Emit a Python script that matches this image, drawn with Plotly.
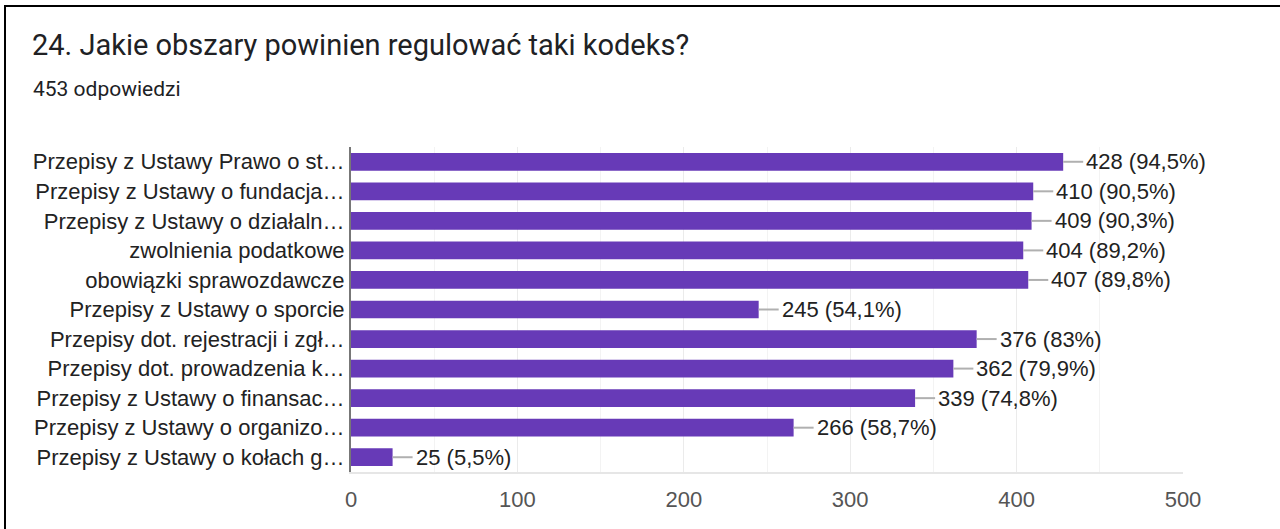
import plotly.graph_objects as go

categories = [
    "Przepisy z Ustawy Prawo o st…",
    "Przepisy z Ustawy o fundacja…",
    "Przepisy z Ustawy o działaln…",
    "zwolnienia podatkowe",
    "obowiązki sprawozdawcze",
    "Przepisy z Ustawy o sporcie",
    "Przepisy dot. rejestracji i zgł…",
    "Przepisy dot. prowadzenia k…",
    "Przepisy z Ustawy o finansac…",
    "Przepisy z Ustawy o organizo…",
    "Przepisy z Ustawy o kołach g…",
]
counts = [428, 410, 409, 404, 407, 245, 376, 362, 339, 266, 25]
percents = ["94,5%", "90,5%", "90,3%", "89,2%", "89,8%", "54,1%", "83%", "79,9%", "74,8%", "58,7%", "5,5%"]
tick_values = [0, 100, 200, 300, 400, 500]

TITLE = "24. Jakie obszary powinien regulować taki kodeks?"
SUBTITLE = "453 odpowiedzi"

W, H = 1280, 529
PURPLE = "#673ab7"
FONT = "Liberation Sans, Arial, sans-serif"

fig = go.Figure()
fig.add_trace(go.Bar(
    x=counts, y=categories, orientation="h",
    marker=dict(color=PURPLE, line=dict(width=0)),
    hoverinfo="x+y", showlegend=False,
))

# leader lines + value labels
for c, v, p in zip(categories, counts, percents):
    fig.add_shape(type="line", xref="x", yref="y", xsizemode="pixel", xanchor=v,
                  x0=0, x1=20, y0=c, y1=c,
                  line=dict(color="#b0b0b0", width=2))
    fig.add_annotation(x=v, y=c, xref="x", yref="y", text=f"{v} ({p})",
                       showarrow=False, xanchor="left", yanchor="middle", xshift=21,
                       font=dict(family=FONT, size=22, color="#222222"))

# card border
fig.add_shape(type="rect", xref="paper", yref="paper",
              x0=5 / W, x1=1.05, y0=-0.05, y1=1 - 6 / H,
              line=dict(color="#000000", width=2), fillcolor="rgba(0,0,0,0)", layer="above")

fig.add_annotation(x=30 / W, y=1 - 45 / H, xref="paper", yref="paper", text=TITLE,
                   showarrow=False, xanchor="left", yanchor="middle",
                   font=dict(family="Roboto, sans-serif", size=29, color="#202124"))
fig.add_annotation(x=31 / W, y=1 - 89 / H, xref="paper", yref="paper", text=SUBTITLE,
                   showarrow=False, xanchor="left", yanchor="middle",
                   font=dict(family="Roboto, sans-serif", size=21, color="#202124"))

fig.update_layout(
    width=W, height=H, autosize=False,
    margin=dict(l=0, r=0, t=0, b=0, pad=0),
    paper_bgcolor="white", plot_bgcolor="white",
    bargap=0.4,
    xaxis=dict(
        domain=[351 / W, 1183 / W], range=[0, 500], automargin=False,
        tickvals=tick_values, ticktext=[str(t) for t in tick_values],
        showgrid=True, gridcolor="#ebebeb", gridwidth=1,
        minor=dict(dtick=50, showgrid=True, gridcolor="#f3f3f3", gridwidth=1),
        zeroline=False, showline=True, linecolor="#e6e6e6", linewidth=2,
        ticks="", ticklabelstandoff=7,
        tickfont=dict(family=FONT, size=22, color="#555555"),
        fixedrange=True,
    ),
    yaxis=dict(
        domain=[1 - 472 / H, 1 - 147 / H], automargin=False,
        autorange="reversed", type="category",
        showline=True, linecolor="#777777", linewidth=2,
        showgrid=False, zeroline=False, ticks="", ticklabelstandoff=0,
        tickfont=dict(family=FONT, size=22, color="#222222"),
        fixedrange=True,
    ),
    font=dict(family=FONT),
)

fig.write_html(
    "out.html",
    config={"displayModeBar": False, "responsive": False},
    post_script="document.documentElement.style.overflow='hidden';document.body.style.margin='0';document.body.style.padding='0';document.body.style.overflow='hidden';",
)
